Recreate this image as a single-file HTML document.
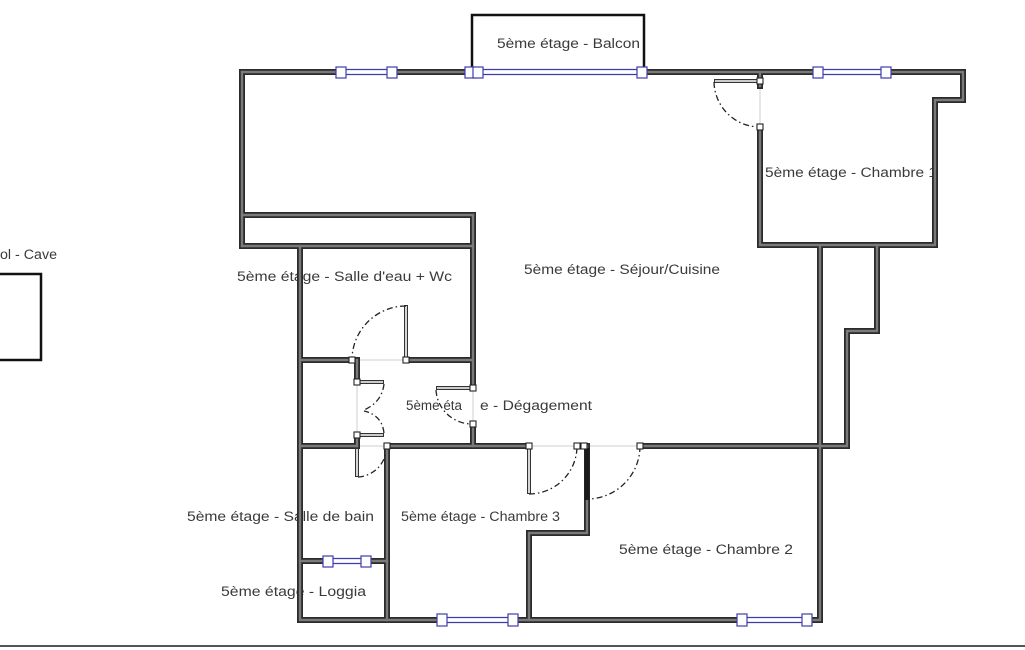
<!DOCTYPE html>
<html>
<head>
<meta charset="utf-8">
<style>
  html, body { margin:0; padding:0; background:#fff; }
  body { width:1025px; height:650px; overflow:hidden; }
  svg { display:block; }
  text { font-family:"Liberation Sans", sans-serif; font-size:13.5px; fill:#3a3a3a; }
</style>
</head>
<body>
<svg width="1025" height="650" viewBox="0 0 1025 650" xmlns="http://www.w3.org/2000/svg">
  <rect x="0" y="0" width="1025" height="650" fill="#fff"/>

  <!-- Labels (drawn first so walls overlap) -->
  <text x="497" y="48" textLength="143" lengthAdjust="spacingAndGlyphs">5ème étage - Balcon</text>
  <text x="765" y="177" textLength="172" lengthAdjust="spacingAndGlyphs">5ème étage - Chambre 1</text>
  <text x="237" y="281" textLength="215" lengthAdjust="spacingAndGlyphs">5ème étage - Salle d'eau + Wc</text>
  <text x="524" y="274" textLength="196" lengthAdjust="spacingAndGlyphs">5ème étage - Séjour/Cuisine</text>
  <text x="406" y="410" textLength="56" lengthAdjust="spacingAndGlyphs">5ème éta</text>
  <text x="480" y="410" textLength="112" lengthAdjust="spacingAndGlyphs">e - Dégagement</text>
  <text x="187" y="521" textLength="187" lengthAdjust="spacingAndGlyphs">5ème étage - Salle de bain</text>
  <text x="401" y="521" textLength="159" lengthAdjust="spacingAndGlyphs">5ème étage - Chambre 3</text>
  <text x="619" y="554" textLength="174" lengthAdjust="spacingAndGlyphs">5ème étage - Chambre 2</text>
  <text x="221" y="596" textLength="145" lengthAdjust="spacingAndGlyphs">5ème étage - Loggia</text>
  <text x="0" y="259" textLength="57" lengthAdjust="spacingAndGlyphs">ol - Cave</text>

  <!-- Balcony and cave outlines -->
  <rect x="472" y="15" width="172" height="57" fill="none" stroke="#111" stroke-width="2.5"/>
  <rect x="-3" y="274" width="44" height="86" fill="none" stroke="#111" stroke-width="2.5"/>

  <!-- thin grey door-opening lines -->
  <g stroke="#cfcfcf" stroke-width="1" fill="none">
    <line x1="760" y1="86" x2="760" y2="127"/>
    <line x1="352" y1="360" x2="406" y2="360"/>
    <line x1="357" y1="382" x2="357" y2="435"/>
    <line x1="473" y1="388" x2="473" y2="425"/>
    <line x1="529" y1="446" x2="577" y2="446"/>
    <line x1="587" y1="446" x2="640" y2="446"/>
    <line x1="357" y1="446" x2="387" y2="446"/>
  </g>

  <!-- Walls: dark outer stroke -->
  <g stroke="#2b2b2b" stroke-width="6" stroke-linecap="square" fill="none">
    <path d="M242,72 H963 V100 H935 V245 H760 V127"/>
    <path d="M760,72 V86"/>
    <path d="M242,72 V246"/>
    <path d="M242,215 H473"/>
    <path d="M242,246 H473"/>
    <path d="M473,215 V388"/>
    <path d="M473,425 V446"/>
    <path d="M300,246 V620 H820 V246"/>
    <path d="M300,360 H352"/>
    <path d="M406,360 H473"/>
    <path d="M357,360 V382"/>
    <path d="M357,435 V446"/>
    <path d="M300,446 H357"/>
    <path d="M387,446 H529"/>
    <path d="M387,450 V620"/>
    <path d="M300,561 H387"/>
    <path d="M529,620 V533 H587 V446"/>
    <path d="M640,446 H847 V331 H877 V245"/>
  </g>
  <!-- Walls: grey inner fill -->
  <g stroke="#7a7a7a" stroke-width="2.4" stroke-linecap="square" fill="none">
    <path d="M242,72 H963 V100 H935 V245 H760 V127"/>
    <path d="M760,72 V86"/>
    <path d="M242,72 V246"/>
    <path d="M242,215 H473"/>
    <path d="M242,246 H473"/>
    <path d="M473,215 V388"/>
    <path d="M473,425 V446"/>
    <path d="M300,246 V620 H820 V246"/>
    <path d="M300,360 H352"/>
    <path d="M406,360 H473"/>
    <path d="M357,360 V382"/>
    <path d="M357,435 V446"/>
    <path d="M300,446 H357"/>
    <path d="M387,446 H529"/>
    <path d="M387,450 V620"/>
    <path d="M300,561 H387"/>
    <path d="M529,620 V533 H587 V446"/>
    <path d="M640,446 H847 V331 H877 V245"/>
  </g>
  <!-- darker door leaf on wall 587 -->
  <line x1="587" y1="448" x2="587" y2="500" stroke="#1a1a1a" stroke-width="5"/>

  <!-- Door leaves (thin double lines) -->
  <g fill="none">
    <g stroke="#333" stroke-width="4">
      <line x1="714" y1="81" x2="758" y2="81"/>
      <line x1="406" y1="305" x2="406" y2="358"/>
      <line x1="359" y1="382" x2="384" y2="382"/>
      <line x1="359" y1="435" x2="384" y2="435"/>
      <line x1="436" y1="388" x2="471" y2="388"/>
      <line x1="357" y1="448" x2="357" y2="477"/>
      <line x1="529" y1="448" x2="529" y2="494"/>
    </g>
    <g stroke="#fff" stroke-width="1.6">
      <line x1="715" y1="81" x2="757" y2="81"/>
      <line x1="406" y1="306" x2="406" y2="357"/>
      <line x1="360" y1="382" x2="383" y2="382"/>
      <line x1="360" y1="435" x2="383" y2="435"/>
      <line x1="437" y1="388" x2="470" y2="388"/>
      <line x1="357" y1="449" x2="357" y2="476"/>
      <line x1="529" y1="449" x2="529" y2="493"/>
    </g>
  </g>

  <!-- Door swing arcs (dash-dot) -->
  <g fill="none" stroke="#222" stroke-width="1.3" stroke-dasharray="6 3 1.5 3">
    <path d="M714,82 A46,46 0 0 0 760,127"/>
    <path d="M406,306 A54,54 0 0 0 352,360"/>
    <path d="M384,384 Q382,402 364,410"/>
    <path d="M384,433 Q382,415 364,411"/>
    <path d="M436,390 A36,36 0 0 0 472,424"/>
    <path d="M358,477 A30,30 0 0 0 386,452"/>
    <path d="M529,494 A48,48 0 0 0 577,446"/>
    <path d="M640,446 A53,53 0 0 1 587,499"/>
  </g>

  <!-- Door jamb small squares -->
  <g fill="#fff" stroke="#222" stroke-width="1.1">
    <rect x="757" y="78" width="6" height="6"/>
    <rect x="757" y="124" width="6" height="6"/>
    <rect x="349" y="357" width="6" height="6"/>
    <rect x="403" y="357" width="6" height="6"/>
    <rect x="354" y="379" width="6" height="6"/>
    <rect x="354" y="432" width="6" height="6"/>
    <rect x="470" y="385" width="6" height="6"/>
    <rect x="470" y="421" width="6" height="6"/>
    <rect x="384" y="443" width="6" height="6"/>
    <rect x="526" y="443" width="6" height="6"/>
    <rect x="574" y="443" width="6" height="6"/>
    <rect x="581" y="443" width="6" height="6"/>
    <rect x="637" y="443" width="6" height="6"/>
  </g>

  <!-- Windows -->
  <g>
    <g stroke="none" fill="#fff">
      <rect x="341" y="69" width="51" height="6"/>
      <rect x="470" y="69" width="172" height="6"/>
      <rect x="818" y="69" width="68" height="6"/>
      <rect x="328" y="558" width="38" height="6"/>
      <rect x="442" y="617" width="71" height="6"/>
      <rect x="742" y="617" width="65" height="6"/>
    </g>
    <g stroke="#3c3caa" stroke-width="1.2" fill="none">
      <path d="M341,69.5 H392 M341,74.5 H392"/>
      <path d="M470,69.5 H642 M470,74.5 H642"/>
      <path d="M818,69.5 H886 M818,74.5 H886"/>
      <path d="M328,558.5 H366 M328,563.5 H366"/>
      <path d="M442,617.5 H513 M442,622.5 H513"/>
      <path d="M742,617.5 H807 M742,622.5 H807"/>
    </g>
    <g fill="#fff" stroke="#3c3caa" stroke-width="1.2">
      <rect x="336" y="67" width="10" height="11"/>
      <rect x="387" y="67" width="10" height="11"/>
      <rect x="465" y="67" width="10" height="11"/>
      <rect x="473" y="67" width="10" height="11"/>
      <rect x="637" y="67" width="10" height="11"/>
      <rect x="813" y="67" width="10" height="11"/>
      <rect x="881" y="67" width="10" height="11"/>
      <rect x="323" y="556" width="10" height="11"/>
      <rect x="361" y="556" width="10" height="11"/>
      <rect x="437" y="614" width="10" height="12"/>
      <rect x="508" y="614" width="10" height="12"/>
      <rect x="737" y="614" width="10" height="12"/>
      <rect x="802" y="614" width="10" height="12"/>
    </g>
  </g>

  <!-- bottom separator line -->
  <rect x="0" y="645" width="1025" height="2" fill="#555"/>
</svg>
</body>
</html>
